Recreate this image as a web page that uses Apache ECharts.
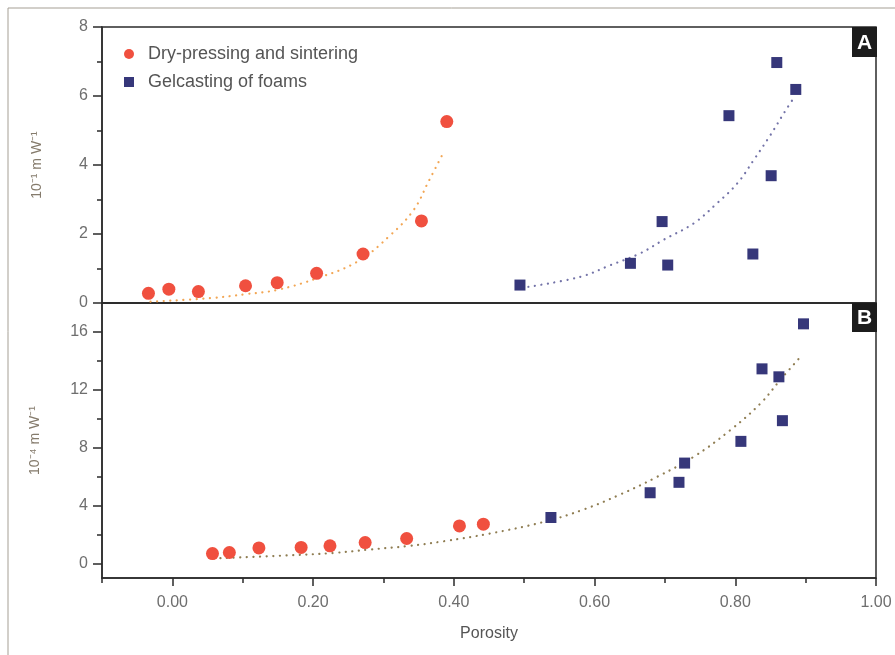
<!DOCTYPE html>
<html><head><meta charset="utf-8">
<script src="https://cdn.jsdelivr.net/npm/echarts@6/dist/echarts.min.js"></script>
<style>html,body{margin:0;padding:0;background:#fff}#c{width:895px;height:655px}</style>
</head><body><div id="c"></div>
<script>
// ---- data ----
const seriesNames = ['Dry-pressing and sintering', 'Gelcasting of foams'];
const xTickValues = [0, 0.2, 0.4, 0.6, 0.8, 1.0];
const xMinorTicks = [-0.1, 0.1, 0.3, 0.5, 0.7, 0.9];
const yTicksB = [0, 4, 8, 12, 16];
const yMinorTicksB = [2, 6, 10, 14];

// Panel A
const aDryX = [-0.034, -0.005, 0.037, 0.104, 0.149, 0.205, 0.271, 0.354, 0.390];
const aDryY = [0.28, 0.40, 0.33, 0.50, 0.59, 0.86, 1.42, 2.38, 5.26];
const aGelX = [0.494, 0.651, 0.696, 0.704, 0.791, 0.825, 0.851, 0.859, 0.886];
const aGelY = [0.52, 1.15, 2.36, 1.10, 5.43, 1.42, 3.69, 6.97, 6.19];
const aDryFitX = [-0.031, 0.054, 0.106, 0.149, 0.206, 0.263, 0.310, 0.343, 0.364, 0.386];
const aDryFitY = [0.04, 0.14, 0.26, 0.38, 0.72, 1.20, 1.97, 2.70, 3.52, 4.39];
const aGelFitX = [0.506, 0.580, 0.623, 0.665, 0.698, 0.741, 0.774, 0.803, 0.826, 0.850, 0.869, 0.881];
const aGelFitY = [0.47, 0.76, 1.10, 1.44, 1.83, 2.31, 2.89, 3.47, 4.14, 4.87, 5.50, 5.88];

// Panel B
const bDryX = [0.057, 0.081, 0.123, 0.183, 0.224, 0.274, 0.333, 0.408, 0.442];
const bDryY = [0.69, 0.76, 1.08, 1.11, 1.22, 1.45, 1.73, 2.60, 2.72];
const bGelX = [0.538, 0.679, 0.720, 0.728, 0.808, 0.838, 0.862, 0.867, 0.897];
const bGelY = [3.18, 4.89, 5.61, 6.94, 8.44, 13.45, 12.90, 9.87, 16.56];
const bFitX = [0.059, 0.168, 0.229, 0.281, 0.334, 0.386, 0.452, 0.528, 0.585, 0.637, 0.689, 0.741, 0.793, 0.836, 0.864, 0.893];
const bFitY = [0.35, 0.57, 0.73, 0.97, 1.20, 1.54, 2.08, 2.88, 3.74, 4.78, 5.99, 7.38, 9.22, 11.07, 12.69, 14.30];

const zip = (xs, ys) => xs.map((x, i) => [x, ys[i]]);

// ---- styles ----
const RED = '#f0503f', BLUE = '#36377a';
const AXIS = '#2b2b2b', LABEL = '#6e6e6e', NAME = '#857b6c';
const FONT = 'Liberation Sans, Arial, sans-serif';
const dotted = (color) => ({ color: color, width: 2.2, type: [0.1, 6.5], cap: 'round' });
const axLine = { show: true, onZero: false, lineStyle: { color: AXIS, width: 1.5 } };

const chart = echarts.init(document.getElementById('c'), null, { renderer: 'canvas' });
const option = {
  animation: false,
  textStyle: { fontFamily: FONT },
  grid: [
    { left: 102, top: 27, width: 774, height: 276, show: true, borderColor: AXIS, borderWidth: 1.5 },
    { left: 102, top: 303, width: 774, height: 275, show: true, borderColor: AXIS, borderWidth: 1.5 }
  ],
  legend: {
    left: 119, top: 40, orient: 'vertical', itemGap: 10, itemWidth: 10, itemHeight: 10,
    selectedMode: false,
    textStyle: { fontSize: 18, color: '#555', fontFamily: FONT, padding: [0, 0, 0, 9] },
    data: [{ name: seriesNames[0], icon: 'circle' }, { name: seriesNames[1], icon: 'rect' }]
  },
  xAxis: [
    { type: 'value', gridIndex: 0, min: -0.1, max: 1.0, position: 'bottom',
      axisLine: axLine, axisTick: { show: false }, axisLabel: { show: false }, splitLine: { show: false } },
    { type: 'value', gridIndex: 1, min: -0.1, max: 1.0, position: 'bottom',
      name: 'Porosity', nameLocation: 'middle', nameGap: 48,
      nameTextStyle: { fontSize: 16, color: '#555', fontFamily: FONT },
      axisLine: axLine,
      axisTick: { show: true, customValues: xTickValues, length: 8, lineStyle: { color: AXIS, width: 1.5 } },
      axisLabel: { show: true, customValues: xTickValues, margin: 17, fontSize: 16, color: LABEL, fontFamily: FONT,
        formatter: (v) => v.toFixed(2) },
      splitLine: { show: false } },
    { type: 'value', gridIndex: 1, min: -0.1, max: 1.0, position: 'bottom',
      axisLine: { show: false, onZero: false },
      axisTick: { show: true, customValues: xMinorTicks, length: 5, lineStyle: { color: AXIS, width: 1.5 } },
      axisLabel: { show: false }, splitLine: { show: false } }
  ],
  yAxis: [
    { type: 'value', gridIndex: 0, min: 0, max: 8, interval: 2, position: 'left',
      name: '10⁻¹ m W⁻¹', nameLocation: 'middle', nameGap: 58, nameRotate: 90,
      nameTextStyle: { fontSize: 14, color: NAME, fontFamily: FONT },
      axisLine: axLine,
      axisTick: { show: true, length: 9, lineStyle: { color: AXIS, width: 1.5 } },
      minorTick: { show: true, splitNumber: 2, length: 5, lineStyle: { color: AXIS, width: 1.5 } },
      axisLabel: { margin: 14, fontSize: 16, color: LABEL, fontFamily: FONT },
      splitLine: { show: false } },
    { type: 'value', gridIndex: 1, min: -1, max: 18, position: 'left',
      name: '10⁻⁴ m W⁻¹', nameLocation: 'middle', nameGap: 60, nameRotate: 90,
      nameTextStyle: { fontSize: 14, color: NAME, fontFamily: FONT },
      axisLine: axLine,
      axisTick: { show: true, customValues: yTicksB, length: 9, lineStyle: { color: AXIS, width: 1.5 } },
      axisLabel: { show: true, customValues: yTicksB, margin: 14, fontSize: 16, color: LABEL, fontFamily: FONT },
      splitLine: { show: false } },
    { type: 'value', gridIndex: 1, min: -1, max: 18, position: 'left',
      axisLine: { show: false, onZero: false },
      axisTick: { show: true, customValues: yMinorTicksB, length: 5, lineStyle: { color: AXIS, width: 1.5 } },
      axisLabel: { show: false }, splitLine: { show: false } }
  ],
  series: [
    { name: seriesNames[0] + ' fit A', type: 'line', xAxisIndex: 0, yAxisIndex: 0, data: zip(aDryFitX, aDryFitY),
      showSymbol: false, smooth: 0.4, lineStyle: dotted('#f2a654'), z: 1 },
    { name: seriesNames[1] + ' fit A', type: 'line', xAxisIndex: 0, yAxisIndex: 0, data: zip(aGelFitX, aGelFitY),
      showSymbol: false, smooth: 0.4, lineStyle: dotted('#7373a8'), z: 1 },
    { name: 'fit B', type: 'line', xAxisIndex: 1, yAxisIndex: 1, data: zip(bFitX, bFitY),
      showSymbol: false, smooth: 0.4, lineStyle: dotted('#8f7d52'), z: 1 },
    { name: seriesNames[0], type: 'scatter', xAxisIndex: 0, yAxisIndex: 0, data: zip(aDryX, aDryY),
      symbol: 'circle', symbolSize: 13, itemStyle: { color: RED, opacity: 1 }, z: 3 },
    { name: seriesNames[1], type: 'scatter', xAxisIndex: 0, yAxisIndex: 0, data: zip(aGelX, aGelY),
      symbol: 'rect', symbolSize: 11, itemStyle: { color: BLUE, opacity: 1 }, z: 3 },
    { name: seriesNames[0], type: 'scatter', xAxisIndex: 1, yAxisIndex: 1, data: zip(bDryX, bDryY),
      symbol: 'circle', symbolSize: 13, itemStyle: { color: RED, opacity: 1 }, z: 3 },
    { name: seriesNames[1], type: 'scatter', xAxisIndex: 1, yAxisIndex: 1, data: zip(bGelX, bGelY),
      symbol: 'rect', symbolSize: 11, itemStyle: { color: BLUE, opacity: 1 }, z: 3 }
  ],
  graphic: [
    { type: 'polyline', shape: { points: [[8, 655], [8, 8], [895, 8]] }, style: { stroke: '#a59f94', lineWidth: 1, fill: null }, silent: true },
    { type: 'rect', shape: { x: 852, y: 27, width: 25, height: 30 }, style: { fill: '#1c1c1c' }, z: 10 },
    { type: 'text', x: 864.5, y: 43, style: { text: 'A', fill: '#fff', font: 'bold 21px Liberation Sans', align: 'center', verticalAlign: 'middle' }, z: 11 },
    { type: 'rect', shape: { x: 852, y: 303, width: 25, height: 29 }, style: { fill: '#1c1c1c' }, z: 10 },
    { type: 'text', x: 864.5, y: 318, style: { text: 'B', fill: '#fff', font: 'bold 21px Liberation Sans', align: 'center', verticalAlign: 'middle' }, z: 11 }
  ]
};
chart.setOption(option);
</script>
</body></html>
